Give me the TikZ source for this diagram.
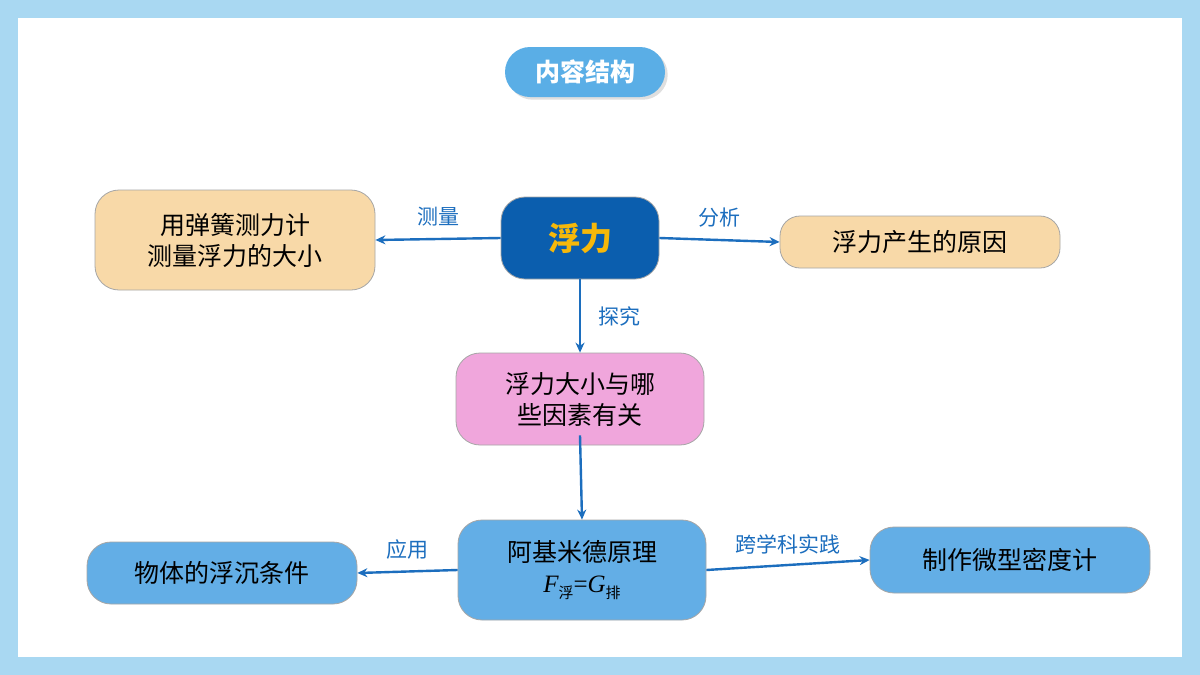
\documentclass[tikz,border=0pt]{standalone}
\usepackage{fontspec}
\setmainfont{Noto Sans CJK SC}
\newfontfamily\lserif{Liberation Serif}
\usetikzlibrary{arrows.meta,shadows}
\definecolor{bgblue}{HTML}{A9D8F2}
\definecolor{pillblue}{HTML}{5AAEE6}
\definecolor{darkblue}{HTML}{0B5EAE}
\definecolor{gold}{HTML}{F6B80A}
\definecolor{peach}{HTML}{F8D9A8}
\definecolor{pinkf}{HTML}{F0A6DC}
\definecolor{midblue}{HTML}{63AEE6}
\definecolor{arr}{HTML}{1C6EBE}
\tikzset{
 box/.style={rounded corners=24pt,draw=black!35,line width=0.8pt,align=center,font=\fontsize{25}{31}\selectfont,minimum height=#1},
 conn/.style={arr,line width=2.4pt,-{Stealth[length=10pt,width=9pt]}},
 lab/.style={font=\fontsize{21}{24}\selectfont}
}
\begin{document}
\begin{tikzpicture}[x=1pt,y=-1pt]
\useasboundingbox (0,0) rectangle (1200,675);
\fill[bgblue] (0,0) rectangle (1200,675);
\fill[white] (18,18) rectangle (1182,657);
\node[fill=pillblue,rounded corners=25pt,minimum width=160pt,minimum height=50pt,text=white,font=\fontsize{25}{30}\selectfont\bfseries,drop shadow={opacity=0.25}] (title) at (585,72) {内容结构};
\node[box=82pt,fill=darkblue,minimum width=158pt,text=gold,font=\fontsize{32}{36}\selectfont\bfseries] (fl) at (580,238) {浮力};
\node[box=100pt,fill=peach,minimum width=280pt] (cl) at (235,240) {用弹簧测力计\\测量浮力的大小};
\node[box=52pt,fill=peach,minimum width=280pt,rounded corners=20pt] (yy) at (920,242) {浮力产生的原因};
\node[box=92pt,fill=pinkf,minimum width=248pt] (ys) at (580,399) {浮力大小与哪\\些因素有关};
\node[box=100pt,fill=midblue,minimum width=248pt] (am) at (582,570) {阿基米德原理\\{\lserif\itshape F}\raisebox{-0.5ex}{\fontsize{15}{15}\selectfont 浮}{\lserif =}{\lserif\itshape G}\raisebox{-0.5ex}{\fontsize{15}{15}\selectfont 排}};
\node[box=62pt,fill=midblue,minimum width=270pt] (fc) at (222,573) {物体的浮沉条件};
\node[box=66pt,fill=midblue,minimum width=280pt] (md) at (1010,560) {制作微型密度计};
\draw[conn] (fl.west) -- (cl.east) node[midway,above=8pt,lab]{测量};
\draw[conn] (fl.east) -- (yy.west) node[midway,above=8pt,lab]{分析};
\draw[conn] (fl.south) -- (ys.north) node[midway,right=14pt,lab]{探究};
\draw[conn] ([yshift=10pt]ys.south) -- (am.north);
\draw[conn] (am.west) -- (fc.east) node[midway,above=8pt,lab]{应用};
\draw[conn] (am.east) -- (md.west) node[midway,above=6pt,lab]{跨学科实践};
\end{tikzpicture}
\end{document}
